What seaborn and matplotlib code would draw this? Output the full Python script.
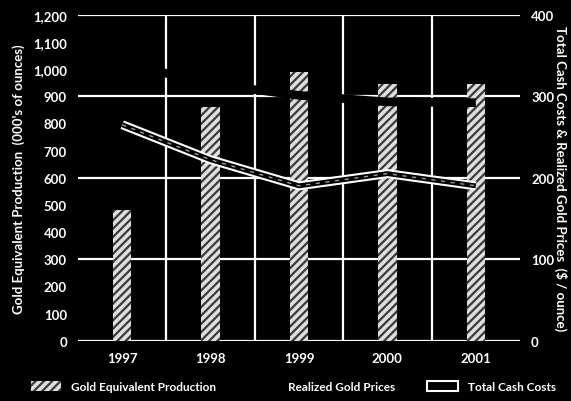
import matplotlib
matplotlib.use("Agg")
import matplotlib.pyplot as plt
import numpy as np
import pandas as pd
import seaborn as sns
from matplotlib.patches import Patch
from matplotlib.lines import Line2D

years = ["1997", "1998", "1999", "2000", "2001"]
production = [480, 860, 990, 945, 945]          # 000's of ounces (left axis)
cash_costs = [265, 222, 190, 205, 190]          # $/ounce (right axis)
gold_prices = [341, 315, 301, 293, 292]         # $/ounce (right axis)

left_ticks = list(range(0, 1201, 100))
right_ticks = [0, 100, 200, 300, 400]

df = pd.DataFrame({"year": years, "production": production,
                   "cash": cash_costs, "price": gold_prices})
df["pos"] = np.arange(len(df))

sns.set_style("dark")
plt.rcParams["font.family"] = ["Lato", "DejaVu Sans"]
plt.rcParams["font.weight"] = "bold"
plt.rcParams["axes.labelweight"] = "bold"
plt.rcParams["hatch.linewidth"] = 1.6

fig = plt.figure(figsize=(5.71, 4.02), dpi=100, facecolor="black")
ax1 = fig.add_axes([0.1366, 0.150, 0.7741, 0.811])
ax1.set_facecolor("black")

sns.barplot(data=df, x="pos", y="production", ax=ax1, width=0.21,
            color="#dedede", saturation=1, linewidth=0, edgecolor="#3a3a3a",
            native_scale=True, zorder=3)
for p in ax1.patches:
    p.set_hatch("////")

ax1.set_xlim(-0.5, 4.5)
ax1.set_ylim(0, 1200)
ax1.set_yticks(left_ticks)
ax1.set_yticklabels([f"{v:,}" for v in left_ticks], fontweight="bold")
ax1.set_xticks(df["pos"])
ax1.set_xticklabels(years, fontweight="bold")
ax1.tick_params(colors="white", labelsize=9.5, length=0, pad=8)
ax1.set_xlabel("")
ax1.set_ylabel("Gold Equivalent Production  (000's of ounces)", color="white",
               fontsize=9.5, labelpad=6, fontweight="bold")
for s in ax1.spines.values():
    s.set_visible(False)

# white grid
ax1.grid(False)
for v in [0, 300, 600, 900, 1200]:
    ax1.axhline(v, color="white", lw=1.6, zorder=1)
for v in [0.5, 1.5, 2.5, 3.5]:
    ax1.axvline(v, color="white", lw=1.6, zorder=1)

ax2 = ax1.twinx()
ax2.set_ylim(0, 400)
ax2.set_yticks(right_ticks)
ax2.set_yticklabels(right_ticks, fontweight="bold")
ax2.tick_params(colors="white", labelsize=9.5, length=0, pad=8)
for s in ax2.spines.values():
    s.set_visible(False)
ax2.grid(False)

# realized gold prices: thick black line (only visible where it crosses white)
sns.lineplot(data=df, x="pos", y="price", ax=ax2, color="black", lw=6.2,
             solid_capstyle="butt", zorder=3)

# total cash costs: hollow double line
sns.lineplot(data=df, x="pos", y="cash", ax=ax2, color="white", lw=6.5,
             solid_capstyle="butt", zorder=4)
sns.lineplot(data=df, x="pos", y="cash", ax=ax2, color="black", lw=3.5,
             solid_capstyle="butt", zorder=5)
sns.lineplot(data=df, x="pos", y="cash", ax=ax2, color="#9a9a9a", lw=1,
             linestyle=(0, (3, 4)), zorder=6)

ax2.set_xlim(-0.5, 4.5)
ax2.set_ylabel("Total Cash Costs & Realized Gold Prices  ($ / ounce)",
               color="white", fontsize=9.5, rotation=-90, labelpad=9,
               fontweight="bold")

# legend
kw = dict(frameon=False, labelcolor="white", handlelength=2.6,
          handleheight=0.9, loc="center left",
          prop={"size": 8.5, "weight": "bold"})
fig.legend(handles=[Patch(facecolor="#dedede", edgecolor="#3a3a3a",
                          hatch="////", lw=0)],
           labels=["Gold Equivalent Production"],
           bbox_to_anchor=(0.035, 0.035), **kw)
fig.legend(handles=[Line2D([], [], color="black", lw=4)],
           labels=["Realized Gold Prices"],
           bbox_to_anchor=(0.415, 0.035), **kw)
fig.legend(handles=[Patch(facecolor="black", edgecolor="white", lw=1.5)],
           labels=["Total Cash Costs"],
           bbox_to_anchor=(0.73, 0.035), **kw)

fig.savefig("out.png", dpi=100, facecolor="black")
